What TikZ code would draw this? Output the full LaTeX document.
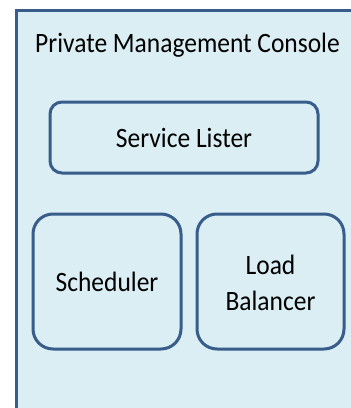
\documentclass[tikz,border=0pt]{standalone}
\usepackage{fontspec}
\setmainfont{Carlito}[FakeStretch=0.91]
\definecolor{panelfill}{HTML}{DAEEF3}
\definecolor{panelline}{HTML}{385D8A}
\tikzset{
  panel/.style={draw=panelline, fill=panelfill, line width=3pt},
  module/.style={draw=panelline, fill=panelfill, line width=3pt, rounded corners=#1},
  label/.style={font=\fontsize{28}{36}\selectfont, text=black, inner sep=0pt, align=center}
}
\begin{document}
\begin{tikzpicture}[x=1pt, y=-1pt]
  \useasboundingbox (0,0) rectangle (351,408);
  \begin{scope}
    \clip (0,0) rectangle (351,408);
    % outer console panel, running past the right and bottom edges
    \draw[panel] (16.5,10.5) rectangle (370,430);
    \node[label, anchor=base] (title) at (187.5,52) {Private Management Console};
    % modules inside the console
    \draw[module=12pt] (50,102) rectangle (318,173);
    \node[label] (lister) at (184,137.5) {Service Lister};
    \draw[module=20pt] (33,214) rectangle (181,349);
    \node[label] (sched) at (107,281.5) {Scheduler};
    \draw[module=20pt] (197,214) rectangle (344,349);
    \node[label] (lb) at (270.5,283) {Load\\Balancer};
  \end{scope}
\end{tikzpicture}
\end{document}
